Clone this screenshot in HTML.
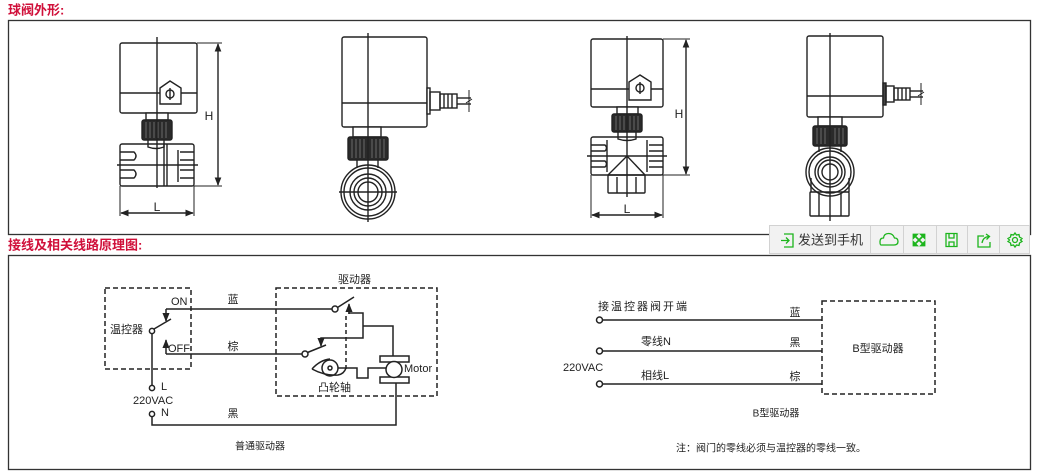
<!DOCTYPE html>
<html><head><meta charset="utf-8">
<style>
html,body{margin:0;padding:0;background:#fff;}
body{width:1038px;height:475px;overflow:hidden;position:relative;font-family:"Liberation Sans","Noto Sans CJK SC",sans-serif;}
svg{position:absolute;left:0;top:0;}
.tb{position:absolute;left:769px;top:225px;width:261px;height:29px;background:#f2f2f2;border:1px solid #d2d2d2;box-sizing:border-box;}
</style></head><body>
<svg width="1038" height="475" viewBox="0 0 1038 475" xmlns="http://www.w3.org/2000/svg" font-family="Liberation Sans, Noto Sans CJK SC, sans-serif">
<defs>
<marker id="ar" viewBox="0 0 10 10" refX="9" refY="5" markerWidth="6" markerHeight="6" orient="auto-start-reverse"><path d="M0,1 L10,5 L0,9 z" fill="#222"/></marker>
<marker id="ar2" viewBox="0 0 10 10" refX="9" refY="5" markerWidth="6" markerHeight="6" orient="auto"><path d="M0,1 L10,5 L0,9 z" fill="#222"/></marker>
</defs>
<!-- titles -->
<text x="8" y="10" font-size="13" font-weight="bold" fill="#d0103a" dominant-baseline="central">球阀外形:</text>
<text x="8" y="245" font-size="13" font-weight="bold" fill="#d0103a" dominant-baseline="central">接线及相关线路原理图:</text>
<rect x="8.5" y="20.5" width="1022" height="214" fill="none" stroke="#333" stroke-width="1.3"/>
<rect x="8.5" y="255.5" width="1022" height="214" fill="none" stroke="#333" stroke-width="1.3"/>

<g stroke="#222" stroke-width="1.4" fill="none">
<!-- ===== valve 1 ===== -->
<rect x="120" y="43" width="77" height="70" rx="2" fill="#fff"/>
<line x1="120" y1="93" x2="197" y2="93"/>
<path d="M160,88 L170,81 L181,88 L181,104 L160,104 Z" fill="#fff"/>
<circle cx="170" cy="94" r="4"/><line x1="170" y1="88" x2="170" y2="100"/>
<rect x="146" y="113" width="22" height="7" fill="#fff"/>
<rect x="142" y="120" width="30" height="20" rx="2" fill="#2a2a2a"/>
<g stroke="#888" stroke-width="0.7"><line x1="146" y1="122" x2="146" y2="138"/><line x1="150" y1="122" x2="150" y2="138"/><line x1="154" y1="122" x2="154" y2="138"/><line x1="158" y1="122" x2="158" y2="138"/><line x1="162" y1="122" x2="162" y2="138"/><line x1="166" y1="122" x2="166" y2="138"/></g>
<path d="M148,140 L148,147 Q156,150 164,147 L164,140"/>
<rect x="120" y="144" width="74" height="42" rx="2" fill="none"/>
<line x1="164" y1="144" x2="164" y2="186"/><line x1="167" y1="144" x2="167" y2="186"/>
<path d="M120,152 L134,152 Q138,156 134,160 L120,160 M120,170 L134,170 Q138,174 134,178 L120,178"/>
<path d="M194,152 L180,152 M180,160 L194,160 M194,170 L180,170 M180,178 L194,178 M178,150 L178,182"/>
<line x1="117" y1="165" x2="198" y2="165"/>
<line x1="157" y1="37" x2="157" y2="188"/>
<line x1="197" y1="43" x2="222" y2="43" stroke-width="1"/>
<line x1="194" y1="186" x2="222" y2="186" stroke-width="1"/>
<line x1="218" y1="44" x2="218" y2="185" marker-start="url(#ar)" marker-end="url(#ar)"/>
<line x1="120" y1="186" x2="120" y2="216" stroke-width="1"/>
<line x1="194" y1="186" x2="194" y2="216" stroke-width="1"/>
<line x1="121" y1="213" x2="193" y2="213" marker-start="url(#ar)" marker-end="url(#ar)"/>

<!-- ===== valve 2 ===== -->
<rect x="342" y="37" width="85" height="90" rx="2" fill="#fff"/>
<line x1="342" y1="103" x2="427" y2="103"/>
<rect x="427" y="88" width="3" height="26" fill="#fff"/>
<rect x="430" y="92" width="10" height="18"/>
<rect x="440" y="94" width="17" height="14"/>
<line x1="444" y1="94" x2="444" y2="108"/><line x1="448" y1="94" x2="448" y2="108"/><line x1="452" y1="94" x2="452" y2="108"/>
<line x1="457" y1="98" x2="471" y2="98"/><line x1="457" y1="104" x2="471" y2="104"/>
<path d="M469,90 L469,112 M466,103 L472,99" stroke-width="1"/>
<rect x="353" y="127" width="28" height="10" fill="#fff"/>
<rect x="348" y="137" width="40" height="23" rx="2" fill="#2a2a2a"/>
<g stroke="#888" stroke-width="0.7"><line x1="352" y1="139" x2="352" y2="158"/><line x1="356" y1="139" x2="356" y2="158"/><line x1="360" y1="139" x2="360" y2="158"/><line x1="364" y1="139" x2="364" y2="158"/><line x1="372" y1="139" x2="372" y2="158"/><line x1="376" y1="139" x2="376" y2="158"/><line x1="380" y1="139" x2="380" y2="158"/><line x1="384" y1="139" x2="384" y2="158"/></g>
<line x1="357" y1="160" x2="357" y2="168"/><line x1="378" y1="160" x2="378" y2="168"/>
<circle cx="368" cy="192" r="27"/><circle cx="368" cy="192" r="24"/><circle cx="368" cy="192" r="18"/><circle cx="368" cy="192" r="14"/><circle cx="368" cy="192" r="10"/>
<line x1="339" y1="192" x2="397" y2="192"/>
<line x1="368" y1="33" x2="368" y2="222"/>

<!-- ===== valve 3 ===== -->
<rect x="591" y="39" width="72" height="68" rx="2" fill="#fff"/>
<line x1="591" y1="89" x2="663" y2="89"/>
<path d="M629,82 L640,75 L651,82 L651,100 L629,100 Z" fill="#fff"/>
<circle cx="640" cy="88" r="4"/><line x1="640" y1="82" x2="640" y2="94"/>
<rect x="617" y="107" width="21" height="7" fill="#fff"/>
<rect x="612" y="114" width="30" height="18" rx="2" fill="#2a2a2a"/>
<g stroke="#888" stroke-width="0.7"><line x1="616" y1="116" x2="616" y2="130"/><line x1="620" y1="116" x2="620" y2="130"/><line x1="624" y1="116" x2="624" y2="130"/><line x1="630" y1="116" x2="630" y2="130"/><line x1="634" y1="116" x2="634" y2="130"/><line x1="638" y1="116" x2="638" y2="130"/></g>
<path d="M618,132 L618,139 Q627,142 636,139 L636,132"/>
<rect x="591" y="137" width="72" height="38" rx="2"/>
<path d="M591,145 L605,145 Q608,148 605,151 L591,151 M591,161 L605,161 Q608,164 605,167 L591,167 M607,140 L607,172"/>
<path d="M663,145 L649,145 M649,151 L663,151 M663,161 L649,161 M649,167 L663,167 M647,140 L647,172"/>
<path d="M608,175 L627,156 L645,175"/>
<rect x="608" y="175" width="37" height="18" rx="1"/>
<line x1="617" y1="177" x2="617" y2="193"/><line x1="636" y1="177" x2="636" y2="193"/>
<line x1="587" y1="156" x2="667" y2="156"/>
<line x1="627" y1="36" x2="627" y2="197"/>
<line x1="663" y1="39" x2="690" y2="39" stroke-width="1"/>
<line x1="645" y1="175" x2="690" y2="175" stroke-width="1"/>
<line x1="686" y1="40" x2="686" y2="174" marker-start="url(#ar)" marker-end="url(#ar)"/>
<line x1="591" y1="175" x2="591" y2="218" stroke-width="1"/>
<line x1="663" y1="175" x2="663" y2="218" stroke-width="1"/>
<line x1="592" y1="215" x2="662" y2="215" marker-start="url(#ar)" marker-end="url(#ar)"/>

<!-- ===== valve 4 ===== -->
<rect x="807" y="36" width="76" height="81" rx="2" fill="#fff"/>
<line x1="807" y1="96" x2="883" y2="96"/>
<rect x="883" y="83" width="3" height="22" fill="#444"/>
<rect x="886" y="86" width="8" height="16"/>
<rect x="894" y="88" width="16" height="12"/>
<line x1="898" y1="88" x2="898" y2="100"/><line x1="902" y1="88" x2="902" y2="100"/><line x1="906" y1="88" x2="906" y2="100"/>
<line x1="910" y1="91" x2="923" y2="91"/><line x1="910" y1="97" x2="923" y2="97"/>
<path d="M921,83 L921,105 M918,96 L924,92" stroke-width="1"/>
<rect x="818" y="117" width="24" height="9" fill="#fff"/>
<rect x="813" y="126" width="34" height="20" rx="2" fill="#2a2a2a"/>
<g stroke="#888" stroke-width="0.7"><line x1="817" y1="128" x2="817" y2="144"/><line x1="821" y1="128" x2="821" y2="144"/><line x1="825" y1="128" x2="825" y2="144"/><line x1="835" y1="128" x2="835" y2="144"/><line x1="839" y1="128" x2="839" y2="144"/><line x1="843" y1="128" x2="843" y2="144"/></g>
<line x1="819" y1="146" x2="819" y2="152"/><line x1="841" y1="146" x2="841" y2="152"/>
<circle cx="830" cy="172" r="24"/><circle cx="830" cy="172" r="21"/><circle cx="830" cy="172" r="15"/><circle cx="830" cy="172" r="12"/><circle cx="830" cy="172" r="8"/>
<line x1="811" y1="178" x2="811" y2="192"/><line x1="849" y1="178" x2="849" y2="192"/>
<rect x="810" y="192" width="39" height="24" rx="1"/>
<line x1="819" y1="194" x2="819" y2="216"/><line x1="841" y1="194" x2="841" y2="216"/>
<line x1="830" y1="33" x2="830" y2="221"/>
</g>
<g font-size="12" fill="#222">
<text x="209" y="116" text-anchor="middle" dominant-baseline="central">H</text>
<text x="157" y="207" text-anchor="middle" dominant-baseline="central">L</text>
<text x="679" y="114" text-anchor="middle" dominant-baseline="central">H</text>
<text x="627" y="209" text-anchor="middle" dominant-baseline="central">L</text>
</g>

<!-- ===== wiring left ===== -->
<g stroke="#222" stroke-width="1.5" fill="none">
<rect x="105" y="288" width="86" height="81" stroke-dasharray="5,3"/>
<rect x="276" y="288" width="161" height="108" stroke-dasharray="5,3"/>
<line x1="166" y1="309" x2="332" y2="309"/>
<line x1="166" y1="309" x2="166" y2="321" marker-end="url(#ar2)"/>
<line x1="166" y1="354" x2="302" y2="354"/>
<line x1="166" y1="354" x2="166" y2="340" marker-end="url(#ar2)"/>
<circle cx="152" cy="331" r="2.6" fill="#fff"/>
<line x1="154" y1="329" x2="171" y2="319"/>
<line x1="152" y1="333.5" x2="152" y2="385.5"/>
<circle cx="152" cy="388" r="2.6" fill="#fff"/>
<circle cx="152" cy="414" r="2.6" fill="#fff"/>
<polyline points="152,416.5 152,425 396,425 396,383"/>
<!-- driver internals -->
<circle cx="335" cy="309" r="3" fill="#fff"/>
<line x1="337.5" y1="307.5" x2="354" y2="297"/>
<polyline points="349,314 349,313 363,313 363,338 321,338 321,341" />
<line x1="349" y1="314" x2="349" y2="304" marker-end="url(#ar2)"/>
<line x1="321" y1="338" x2="321" y2="346" marker-end="url(#ar2)"/>
<line x1="346" y1="316" x2="346" y2="370" stroke-dasharray="4,3"/>
<polyline points="363,326 393,326 393,356"/>
<circle cx="305" cy="354" r="3" fill="#fff"/>
<line x1="307.5" y1="352.5" x2="326" y2="345"/>
<circle cx="330" cy="368" r="8"/><circle cx="330" cy="368" r="2"/>
<path d="M312,369 Q320,360 330,359 M312,369 Q325,376 338,375 Q344,374 346,368"/>
<polyline points="338,368 357,368 357,378 368,378 368,368 386,368"/>
<rect x="380" y="356" width="29" height="6" fill="#fff"/>
<rect x="380" y="377" width="29" height="6" fill="#fff"/>
<circle cx="394" cy="369.5" r="8" fill="#fff"/>
</g>
<g font-size="11" fill="#222" dominant-baseline="central">
<text x="171" y="302">ON</text>
<text x="168" y="349">OFF</text>
<text x="110" y="330">温控器</text>
<text x="161" y="387">L</text>
<text x="133" y="401">220VAC</text>
<text x="161" y="413">N</text>
<text x="233" y="300" text-anchor="middle">蓝</text>
<text x="233" y="347" text-anchor="middle">棕</text>
<text x="233" y="414" text-anchor="middle">黑</text>
<text x="338" y="280">驱动器</text>
<text x="318" y="388">凸轮轴</text>
<text x="404" y="369">Motor</text>
<text x="235" y="447" font-size="10">普通驱动器</text>
</g>

<!-- ===== wiring right ===== -->
<g stroke="#222" stroke-width="1.5" fill="none">
<circle cx="599.5" cy="320" r="3" fill="#fff"/>
<circle cx="599.5" cy="351" r="3" fill="#fff"/>
<circle cx="599.5" cy="384" r="3" fill="#fff"/>
<line x1="602.5" y1="320" x2="822" y2="320"/>
<line x1="602.5" y1="351" x2="822" y2="351"/>
<line x1="602.5" y1="384" x2="822" y2="384"/>
<rect x="822" y="301" width="113" height="93" stroke-dasharray="5,3"/>
</g>
<g font-size="11" fill="#222" dominant-baseline="central">
<text x="598" y="307" letter-spacing="2">接温控器阀开端</text>
<text x="795" y="313" text-anchor="middle">蓝</text>
<text x="795" y="343" text-anchor="middle">黑</text>
<text x="795" y="377" text-anchor="middle">棕</text>
<text x="641" y="342">零线N</text>
<text x="641" y="376">相线L</text>
<text x="563" y="368">220VAC</text>
<text x="878" y="349" text-anchor="middle">B型驱动器</text>
<text x="776" y="414" text-anchor="middle" font-size="10">B型驱动器</text>
<text x="771" y="449" text-anchor="middle" font-size="10">注：阀门的零线必须与温控器的零线一致。</text>
</g>
</svg>

<div class="tb"></div>
<svg width="1038" height="475" viewBox="0 0 1038 475" xmlns="http://www.w3.org/2000/svg">
<g stroke="#d2d2d2" stroke-width="1"><line x1="870.5" y1="226" x2="870.5" y2="253"/><line x1="903.5" y1="226" x2="903.5" y2="253"/><line x1="936.5" y1="226" x2="936.5" y2="253"/><line x1="967.5" y1="226" x2="967.5" y2="253"/><line x1="999.5" y1="226" x2="999.5" y2="253"/></g>
<g stroke="#1cb51c" stroke-width="1.3" fill="none">
<path d="M784,234 L793,234 L793,247 L784,247 M781,240.5 L789,240.5 M786,237.5 L789,240.5 L786,243.5"/>
<path d="M881,245 L894,245 Q898,245 898,241.5 Q898,238 894.5,238 Q893,233.5 888.5,233.5 Q884,233.5 883.5,238 Q880,238 880,241.5 Q880,245 881,245 Z"/>
<path d="M915,236 L923,244 M923,236 L915,244" stroke-width="1.8"/>
<path d="M913,234 L918,234 L913,239 Z M925,234 L920,234 L925,239 Z M913,246 L918,246 L913,241 Z M925,246 L920,246 L925,241 Z" fill="#1cb51c" stroke-width="0.8"/>
<path d="M946,233.5 L957,233.5 L957,246.5 L946,246.5 Z M949,233.5 L949,238 L954,238 L954,233.5 M949,246.5 L949,242 L954,242 L954,246.5"/>
<path d="M984,236 L978,236 L978,247 L990,247 L990,242 M982,243 Q983,237 989,236.5 M986,234 L989.5,236.5 L986.5,239.5"/>
<circle cx="1015" cy="240" r="2.5"/>
<path d="M1015,233 L1016.5,235 L1019,234.5 L1019.5,237 L1022,238.5 L1020.5,240 L1022,241.5 L1019.5,243 L1019,245.5 L1016.5,245 L1015,247 L1013.5,245 L1011,245.5 L1010.5,243 L1008,241.5 L1009.5,240 L1008,238.5 L1010.5,237 L1011,234.5 L1013.5,235 Z"/>
</g>
<text x="798" y="240" font-size="13" fill="#333" dominant-baseline="central" font-family="Liberation Sans, Noto Sans CJK SC, sans-serif">发送到手机</text>
</svg>
</body></html>
